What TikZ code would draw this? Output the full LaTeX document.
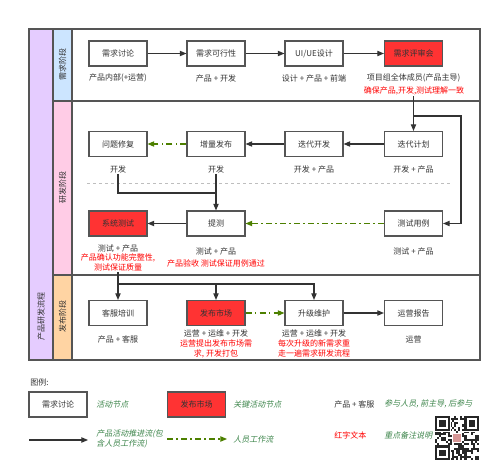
\documentclass[tikz,border=0pt]{standalone}
\usepackage{fontspec}
\setmainfont{Noto Sans CJK SC}
\newfontfamily\slantcjk[FakeSlant=0.2]{Noto Sans CJK SC}
\usetikzlibrary{arrows.meta}
\definecolor{framegray}{RGB}{85,85,85}
\definecolor{textgray}{RGB}{51,51,51}
\definecolor{keyred}{RGB}{255,51,51}
\definecolor{staffgreen}{RGB}{77,128,0}
\definecolor{legendgreen}{RGB}{61,133,75}
\definecolor{flowpurple}{RGB}{229,204,255}
\definecolor{needblue}{RGB}{204,229,255}
\definecolor{devpink}{RGB}{255,204,230}
\definecolor{relorange}{RGB}{255,212,163}

\begin{document}
\begin{tikzpicture}[x=0.75pt,y=0.75pt,yscale=-1,xscale=1,
    font=\fontsize{6}{7.5}\selectfont,
    act/.style={draw=framegray, line width=0.8pt, fill=white, text=textgray, minimum width=43.5pt, minimum height=18.75pt, inner sep=0pt},
    keyact/.style={act, fill=keyred},
    who/.style={text=textgray, inner sep=0.75pt},
    redtext/.style={text=red, align=center, inner sep=0.75pt},
    legtext/.style={text=legendgreen, font=\fontsize{6}{7.5}\selectfont\slantcjk, align=left, anchor=west, inner sep=0.75pt},
    flow/.style={draw=textgray, line width=0.8pt, -{Triangle[length=5pt,width=4pt]}},
    staff/.style={draw=staffgreen, line width=0.8pt, dash pattern={on 4.5pt off 2.5pt on 1pt off 2.5pt}, -{Triangle[length=5pt,width=4pt]}}]
    \useasboundingbox (0,0) rectangle (500,470);

    %Shape: Rectangle [lanes]
    \draw [draw=framegray, fill=flowpurple, line width=0.8pt] (29,29) rectangle (53,360) ;
    \draw [draw=framegray, fill=needblue, line width=0.8pt] (53,29) rectangle (72,101) ;
    \draw [draw=framegray, fill=devpink, line width=0.8pt] (53,101) rectangle (72,275) ;
    \draw [draw=framegray, fill=relorange, line width=0.8pt] (53,275) rectangle (72,360) ;
    \draw [draw=framegray, line width=0.8pt] (72,29) rectangle (480,101) ;
    \draw [draw=framegray, line width=0.8pt] (72,101) rectangle (480,275) ;
    \draw [draw=framegray, line width=0.8pt] (72,275) rectangle (480,360) ;
    %Straight Lines [separator]
    \draw [color={rgb, 255:red, 190; green, 190; blue, 190 }, dash pattern={on 2.5pt off 2pt}] (87,183) -- (452,183) ;

    % Text Node
    \node [rotate=90, text=textgray] (flowname) at (41,317) {产品研发流程};
    \node [rotate=90, text=textgray] (needstage) at (62.5,65) {需求阶段};
    \node [rotate=90, text=textgray] (devstage) at (62.5,188) {研发阶段};
    \node [rotate=90, text=textgray] (relstage) at (62.5,317) {发布阶段};

    % need stage
    \node [act] (discuss) at (118,53.5) {需求讨论};
    \node [act] (feasible) at (216,53.5) {需求可行性};
    \node [act] (uiux) at (314,53.5) {UI/UE设计};
    \node [keyact] (review) at (413.5,53.5) {需求评审会};
    \node [who] (discusswho) at (118,78) {产品内部(+运营)};
    \node [who] (feasiblewho) at (216,78) {产品 + 开发};
    \node [who] (uiuxwho) at (314,78) {设计 + 产品 + 前端};
    \node [who] (reviewwho) at (413.5,78) {项目组全体成员(产品主导)};
    \node [redtext] (reviewnote) at (414,91) {确保产品,开发,测试理解一致};

    % dev stage
    \node [act] (fix) at (118,144) {问题修复};
    \node [act] (inc) at (216,144) {增量发布};
    \node [act] (dev) at (314,144) {迭代开发};
    \node [act] (plan) at (413.5,144) {迭代计划};
    \node [who] (fixwho) at (118,169) {开发};
    \node [who] (incwho) at (216,169) {开发};
    \node [who] (devwho) at (314,169) {开发 + 产品};
    \node [who] (planwho) at (413.5,169) {开发 + 产品};
    \node [keyact] (systest) at (118,223.5) {系统测试};
    \node [act] (submit) at (216,223.5) {提测};
    \node [act] (cases) at (413.5,223.5) {测试用例};
    \node [who] (systestwho) at (118,248) {测试 + 产品};
    \node [redtext] (systestnote) at (118,262) {产品确认功能完整性,\\测试保证质量};
    \node [who] (submitwho) at (216,251) {测试 + 产品};
    \node [redtext] (submitnote) at (216,263) {产品验收 测试保证用例通过};
    \node [who] (caseswho) at (413.5,251) {测试 + 产品};

    % release stage
    \node [act] (training) at (118,313) {客服培训};
    \node [keyact] (launch) at (216,313) {发布市场};
    \node [act] (upgrade) at (314,313) {升级维护};
    \node [act] (report) at (413.5,313) {运营报告};
    \node [who] (trainingwho) at (118,339) {产品 + 客服};
    \node [who] (launchwho) at (216,333) {运营 + 运维 + 开发};
    \node [redtext] (launchnote) at (216,348.5) {运营提出发布市场需\\求, 开发打包};
    \node [who] (upgradewho) at (314,333) {运营 + 运维 + 开发};
    \node [redtext] (upgradenote) at (314,348.5) {每次升级的新需求重\\走一遍需求研发流程};
    \node [who] (reportwho) at (413.5,339) {运营};

    % connectors
    \draw [flow] (discuss) -- (feasible) ;
    \draw [flow] (feasible) -- (uiux) ;
    \draw [flow] (uiux) -- (review) ;
    \coordinate (casesplit) at (413.5,116) ;
    \draw [flow] (plan.north |- reviewnote.south) -- (plan.north) ;
    \draw [flow] (casesplit) -- (461,116) |- (cases.east) ;
    \draw [flow] (plan) -- (dev) ;
    \draw [flow] (dev) -- (inc) ;
    \draw [staff] (inc) -- (fix) ;
    \coordinate (fixmerge) at (216,193) ;
    \draw [draw=textgray, line width=0.8pt] (fixwho.south) |- (fixmerge) ;
    \draw [flow] (incwho.south) -- (submit.north) ;
    \draw [staff] (cases) -- (submit) ;
    \draw [flow] (submit) -- (systest) ;
    \coordinate (relsplit) at (118,284) ;
    \draw [flow] (systest.south |- systestnote.south) -- (training.north) ;
    \draw [flow] (relsplit) -| (launch.north) ;
    \draw [flow] (relsplit) -| (upgrade.north) ;
    \draw [staff] (launch) -- (upgrade) ;
    \draw [flow] (upgrade) -- (report) ;

    % legend
    \node [anchor=west, text=textgray, inner sep=0.75pt] (legtitle) at (29,382) {图例:};
    \node [act] (legact) at (58,404.5) {需求讨论};
    \node [legtext] (legacttext) at (95,404) {活动节点};
    \node [keyact] (legkey) at (196.5,404.5) {发布市场};
    \node [legtext] (legkeytext) at (232,404) {关键活动节点};
    \node [who, anchor=west] (legwho) at (333,404) {产品 + 客服};
    \node [legtext] (legwhotext) at (383,404) {参与人员, 前主导, 后参与};
    \coordinate (legflowa) at (29,440) ;
    \coordinate (legflowb) at (88,440) ;
    \draw [flow] (legflowa) -- (legflowb) ;
    \node [legtext] (legflowtext) at (95,438.5) {产品活动推进流(包\\含人员工作流)};
    \coordinate (legstaffa) at (167,439) ;
    \coordinate (legstaffb) at (227,439) ;
    \draw [staff] (legstaffa) -- (legstaffb) ;
    \node [legtext] (legstafftext) at (232,439) {人员工作流};
    \node [redtext, anchor=west] (legred) at (333,435) {红字文本};
    \node [legtext] (legredtext) at (383,435) {重点备注说明};

    % QR code
    \begin{scope}[shift={(435,416)}]
      \pgfmathsetseed{11}
      \foreach \i in {0,...,20}{
        \foreach \j in {0,...,20}{
          \pgfmathtruncatemacro{\bit}{rnd<0.5}
          \ifnum\bit=1 \fill [black!85] (\i*2.1,\j*2.1) rectangle +(2.1,2.1) ; \fi
        }
      }
      \foreach \fx/\fy in {0/0,14/0,0/14}{
        \fill [white] (\fx*2.1-0.5,\fy*2.1-0.5) rectangle +(8*2.1,8*2.1) ;
        \fill [black!85] (\fx*2.1,\fy*2.1) rectangle +(7*2.1,7*2.1) ;
        \fill [white] (\fx*2.1+2.1,\fy*2.1+2.1) rectangle +(5*2.1,5*2.1) ;
        \fill [black!85] (\fx*2.1+4.2,\fy*2.1+4.2) rectangle +(3*2.1,3*2.1) ;
      }
      \fill [white] (8*2.1,8*2.1) rectangle +(5*2.1,5*2.1) ;
      \fill [color={rgb, 255:red, 214; green, 150; blue, 150 }] (8.5*2.1,8.5*2.1) rectangle +(4*2.1,4*2.1) ;
    \end{scope}
\end{tikzpicture}
\end{document}
